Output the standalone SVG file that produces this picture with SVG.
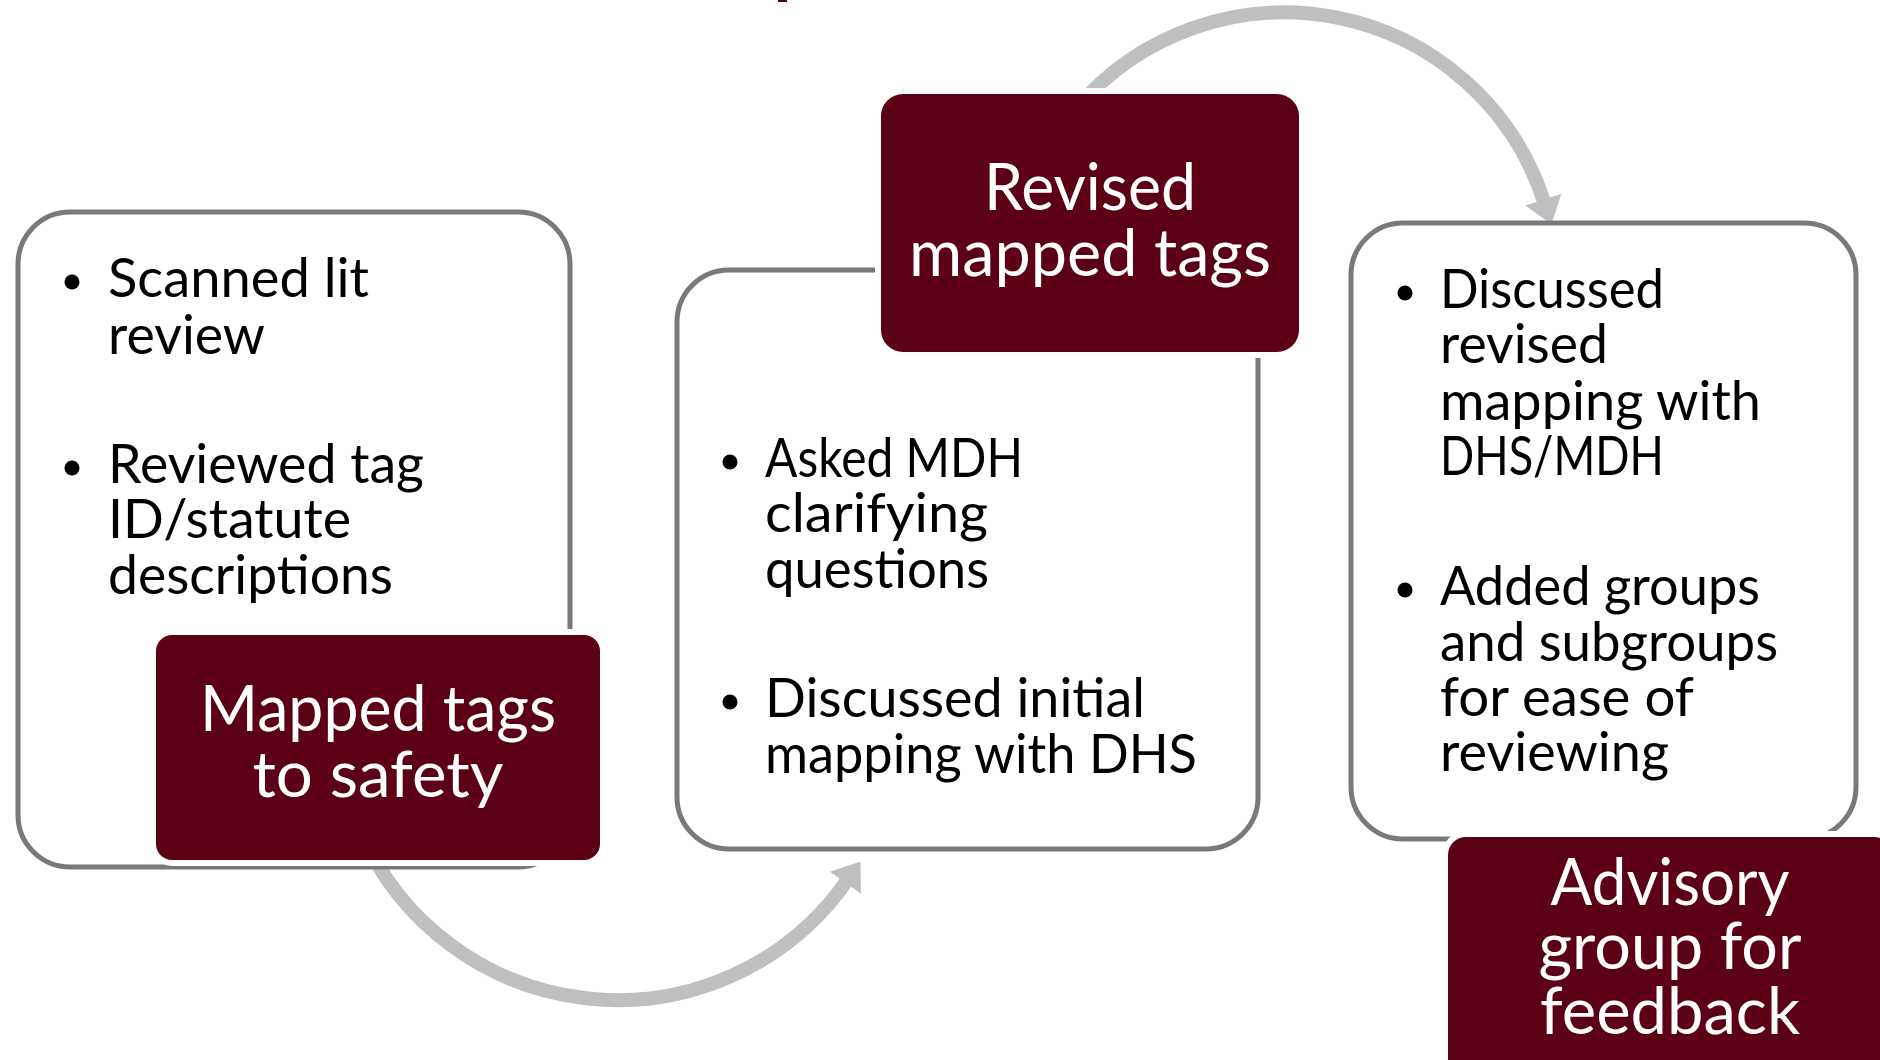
<svg xmlns="http://www.w3.org/2000/svg" width="1880" height="1060" viewBox="0 0 1880 1060">
<style>
.box{fill:#fff;stroke:#77797c;stroke-width:5}
.tag{fill:#5c0016;stroke:#fff;stroke-width:12;paint-order:stroke fill}
.arc{fill:none;stroke:#bebfc1;stroke-width:14}
.body{font-family:Lato,"Open Sans","DejaVu Sans",sans-serif;font-size:54px;fill:#000}
.head{font-family:Lato,"Open Sans","DejaVu Sans",sans-serif;font-size:64px;fill:#fff;text-anchor:middle}
.dot{fill:#000}
</style>
<defs>
<marker id="ah" viewBox="0 0 26 38" refX="1" refY="19" markerWidth="26" markerHeight="38" markerUnits="userSpaceOnUse" orient="auto">
<path d="M0,0 L26,19 L0,38 Z" fill="#bebfc1"/>
</marker>
</defs>
<rect x="778" y="0" width="9" height="2" fill="#5c0016"/>
<g id="connectors">
<path class="arc" d="M 360 830 A 280 280 0 0 0 846 882" marker-end="url(#ah)"/>
<path class="arc" d="M 1075 110 A 273 273 0 0 1 1543.6 200.6" marker-end="url(#ah)"/>
</g>
<g id="box1">
<rect class="box" x="18" y="212" width="552" height="655" rx="52"/>
<circle class="dot" cx="72" cy="282" r="7.5"/>
<circle class="dot" cx="72" cy="468" r="7.5"/>
<text class="body"><tspan x="108" y="297" textLength="261" lengthAdjust="spacingAndGlyphs">Scanned lit</tspan><tspan x="108" y="354" textLength="157" lengthAdjust="spacingAndGlyphs">review</tspan><tspan x="108" y="483" textLength="316" lengthAdjust="spacingAndGlyphs">Reviewed tag</tspan><tspan x="108" y="538" textLength="243" lengthAdjust="spacingAndGlyphs">ID/statute</tspan><tspan x="108" y="594" textLength="285" lengthAdjust="spacingAndGlyphs">descriptions</tspan></text>
</g>
<g id="box2">
<rect class="box" x="677" y="270" width="581" height="579" rx="52"/>
<circle class="dot" cx="730" cy="462" r="7.5"/>
<circle class="dot" cx="730" cy="702" r="7.5"/>
<text class="body"><tspan x="765" y="477" textLength="258" lengthAdjust="spacingAndGlyphs">Asked MDH</tspan><tspan x="765" y="532" textLength="223" lengthAdjust="spacingAndGlyphs">clarifying</tspan><tspan x="765" y="588" textLength="224" lengthAdjust="spacingAndGlyphs">questions</tspan><tspan x="765" y="717" textLength="380" lengthAdjust="spacingAndGlyphs">Discussed initial</tspan><tspan x="765" y="773" textLength="432" lengthAdjust="spacingAndGlyphs">mapping with DHS</tspan></text>
</g>
<g id="box3">
<rect class="box" x="1351" y="223" width="505" height="616" rx="52"/>
<circle class="dot" cx="1405" cy="293" r="7.5"/>
<circle class="dot" cx="1405" cy="590" r="7.5"/>
<text class="body"><tspan x="1440" y="308" textLength="224" lengthAdjust="spacingAndGlyphs">Discussed</tspan><tspan x="1440" y="363" textLength="168" lengthAdjust="spacingAndGlyphs">revised</tspan><tspan x="1440" y="420" textLength="321" lengthAdjust="spacingAndGlyphs">mapping with</tspan><tspan x="1440" y="475" textLength="224" lengthAdjust="spacingAndGlyphs">DHS/MDH</tspan><tspan x="1440" y="605" textLength="320" lengthAdjust="spacingAndGlyphs">Added groups</tspan><tspan x="1440" y="661" textLength="338" lengthAdjust="spacingAndGlyphs">and subgroups</tspan><tspan x="1440" y="716" textLength="254" lengthAdjust="spacingAndGlyphs">for ease of</tspan><tspan x="1440" y="771" textLength="229" lengthAdjust="spacingAndGlyphs">reviewing</tspan></text>
</g>
<g id="tag1">
<rect class="tag" x="156" y="635" width="444" height="225" rx="16"/>
<text class="head"><tspan x="378" y="731" textLength="356" lengthAdjust="spacingAndGlyphs">Mapped tags</tspan><tspan x="378" y="797" textLength="251" lengthAdjust="spacingAndGlyphs">to safety</tspan></text>
</g>
<g id="tag2">
<rect class="tag" x="881" y="94" width="418" height="258" rx="22"/>
<text class="head" style="font-size:66px"><tspan x="1090" y="210" textLength="212" lengthAdjust="spacingAndGlyphs">Revised</tspan><tspan x="1090" y="276" textLength="362" lengthAdjust="spacingAndGlyphs">mapped tags</tspan></text>
</g>
<g id="tag3">
<rect class="tag" x="1448" y="837" width="444" height="240" rx="18"/>
<text class="head" style="font-size:65px"><tspan x="1670" y="905" textLength="239" lengthAdjust="spacingAndGlyphs">Advisory</tspan><tspan x="1670" y="969" textLength="263" lengthAdjust="spacingAndGlyphs">group for</tspan><tspan x="1670" y="1034" textLength="260" lengthAdjust="spacingAndGlyphs">feedback</tspan></text>
</g>
</svg>
